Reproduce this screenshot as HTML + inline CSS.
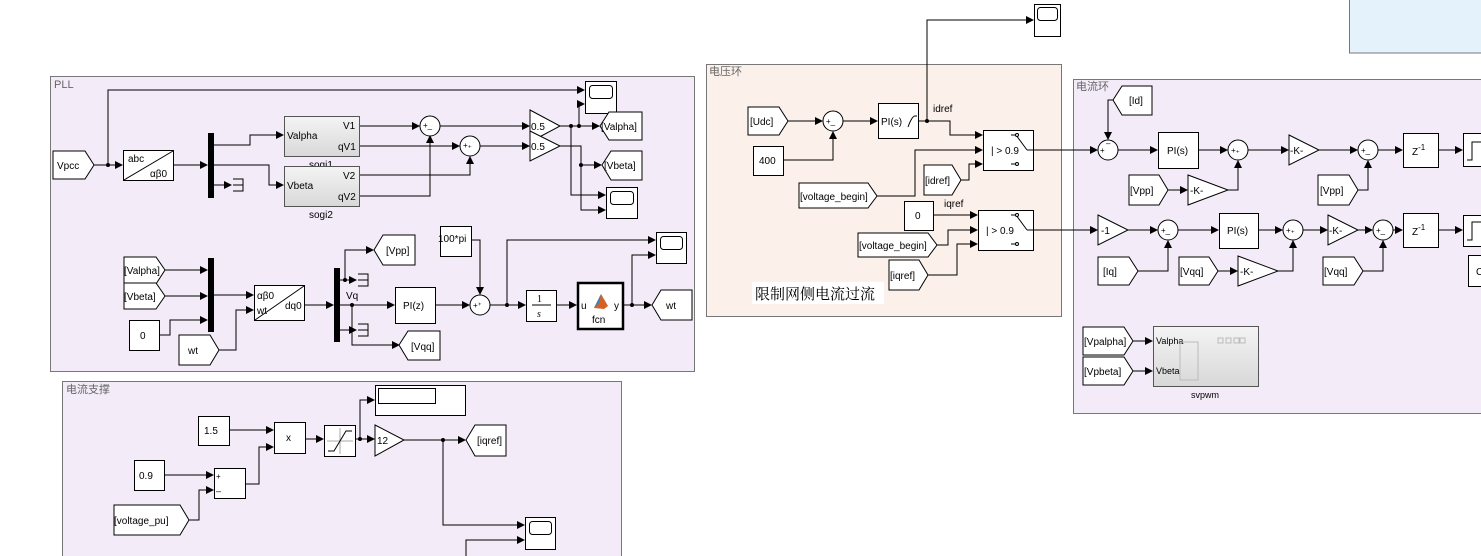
<!DOCTYPE html>
<html><head><meta charset="utf-8"><style>
html,body{margin:0;padding:0;background:#fff;}
svg{display:block;font-family:"Liberation Sans","Noto Sans CJK SC",sans-serif;}
.b{fill:#fff;stroke:#000;stroke-width:1;}
.l{fill:none;stroke:#000;stroke-width:1;}
.t{font-size:10px;fill:#000;}
.pt{font-size:11px;fill:#666;}
.d{fill:#000;}
</style></head><body>
<svg width="1481" height="556" viewBox="0 0 1481 556" xmlns="http://www.w3.org/2000/svg">
<defs>
<marker id="a" markerWidth="8" markerHeight="8" refX="7" refY="4" orient="auto" markerUnits="userSpaceOnUse"><path d="M0,0 L8,4 L0,8 z" fill="#000"/></marker>
<linearGradient id="g" x1="0" y1="0" x2="0" y2="1"><stop offset="0" stop-color="#f4f4f4"/><stop offset="1" stop-color="#d8d8d8"/></linearGradient>
</defs>

<!-- panels -->
<rect x="1349.5" y="-1" width="135" height="54" fill="#e4f2fb" stroke="#777"/>
<rect x="50.5" y="76.5" width="644" height="295" fill="#f3ebf8" stroke="#777"/>
<text x="54" y="88" class="pt">PLL</text>
<rect x="62.5" y="381.5" width="559" height="180" fill="#f3ebf8" stroke="#777"/>
<text x="66" y="393" class="pt">电流支撑</text>
<rect x="706.5" y="64.5" width="355" height="252" fill="#fbf0ea" stroke="#777"/>
<text x="709" y="75" class="pt">电压环</text>
<rect x="1073.5" y="79.5" width="420" height="334" fill="#f3ebf8" stroke="#777"/>
<text x="1076" y="90" class="pt">电流环</text>

<!-- ================= PLL ================= -->
<polygon class="b" points="53,151 85,151 94,165 85,179 53,179"/><text x="57" y="169" class="t">Vpcc</text>
<path class="l" d="M94,165 H122" marker-end="url(#a)"/>
<circle cx="108" cy="165" r="2" class="d"/>
<path class="l" d="M108,165 V90 H584" marker-end="url(#a)"/>
<rect class="b" x="123.5" y="150.5" width="50" height="30"/>
<line class="l" x1="124" y1="180" x2="173" y2="151"/>
<text x="128" y="162" class="t">abc</text><text x="150" y="177" class="t">αβ0</text>
<path class="l" d="M174,165 H207" marker-end="url(#a)"/>
<rect x="208" y="133" width="6" height="65" class="d"/>
<path class="l" d="M214,145 H250 V135 H283" marker-end="url(#a)"/>
<path class="l" d="M214,165 H269 V185 H283" marker-end="url(#a)"/>
<path class="l" d="M214,185 H231" marker-end="url(#a)"/>
<path class="l" d="M233,179 H243 V191 H233 M233,185 H243"/>
<rect x="284.5" y="116.5" width="75" height="40" fill="url(#g)" stroke="#555"/>
<text x="287" y="139" class="t">Valpha</text><text x="343" y="129" class="t">V1</text><text x="338" y="150" class="t">qV1</text>
<text x="309" y="168" class="t">sogi1</text>
<rect x="284.5" y="166.5" width="75" height="40" fill="url(#g)" stroke="#555"/>
<text x="287" y="189" class="t">Vbeta</text><text x="343" y="179" class="t">V2</text><text x="338" y="200" class="t">qV2</text>
<text x="309" y="218" class="t">sogi2</text>
<path class="l" d="M360,126 H419" marker-end="url(#a)"/>
<path class="l" d="M360,146 H459" marker-end="url(#a)"/>
<path class="l" d="M360,175 H470 V157" marker-end="url(#a)"/>
<path class="l" d="M360,196 H430 V136" marker-end="url(#a)"/>
<circle class="b" cx="430" cy="126" r="10"/><text x="423" y="128" class="t" style="font-size:8px">+_</text>
<circle class="b" cx="470" cy="146" r="10"/><text x="463" y="148" class="t" style="font-size:8px">+₊</text>
<path class="l" d="M440,126 H529" marker-end="url(#a)"/>
<path class="l" d="M480,146 H529" marker-end="url(#a)"/>
<polygon class="b" points="530,110 560,126 530,142"/><text x="531" y="130" class="t">0.5</text>
<polygon class="b" points="530,131 560,146 530,161"/><text x="531" y="150" class="t">0.5</text>
<path class="l" d="M560,126 H599" marker-end="url(#a)"/>
<circle cx="571" cy="126" r="2" class="d"/><circle cx="579" cy="126" r="2" class="d"/>
<path class="l" d="M579,126 V104 H584" marker-end="url(#a)"/>
<path class="l" d="M571,126 V195 H605" marker-end="url(#a)"/>
<path class="l" d="M560,146 H581 V210 H605" marker-end="url(#a)"/>
<circle cx="581" cy="165" r="2" class="d"/>
<path class="l" d="M581,165 H601" marker-end="url(#a)"/>
<rect class="b" x="585.5" y="81.5" width="31" height="32"/><rect x="589.5" y="85.5" width="23" height="13" rx="3" fill="#fff" stroke="#000"/>
<polygon class="b" points="600,126 609,112 642,112 642,140 609,140"/><text x="601" y="130" class="t">[Valpha]</text>
<polygon class="b" points="602,165 611,151 642,151 642,180 611,180"/><text x="604" y="169" class="t">[Vbeta]</text>
<rect class="b" x="606.5" y="187.5" width="31" height="31"/><rect x="610.5" y="191.5" width="23" height="13" rx="3" fill="#fff" stroke="#000"/>

<!-- PLL bottom -->
<polygon class="b" points="124,257 156,257 165,270 156,284 124,284"/><text x="124" y="274" class="t">[Valpha]</text>
<polygon class="b" points="124,283 156,283 165,296 156,309 124,309"/><text x="124" y="300" class="t">[Vbeta]</text>
<rect class="b" x="129.5" y="320.5" width="30" height="30"/><text x="140" y="339" class="t">0</text>
<polygon class="b" points="179,335 210,335 219,350 210,365 179,365"/><text x="188" y="354" class="t">wt</text>
<path class="l" d="M165,270 H207" marker-end="url(#a)"/>
<path class="l" d="M165,296 H207" marker-end="url(#a)"/>
<path class="l" d="M159,335 H170 V320 H207" marker-end="url(#a)"/>
<rect x="208" y="258" width="6" height="74" class="d"/>
<path class="l" d="M214,295 H253" marker-end="url(#a)"/>
<path class="l" d="M219,350 H236 V310 H253" marker-end="url(#a)"/>
<rect class="b" x="254.5" y="285.5" width="50" height="35"/>
<line class="l" x1="255" y1="320" x2="304" y2="286"/>
<text x="257" y="299" class="t">αβ0</text><text x="257" y="314" class="t">wt</text><text x="285" y="309" class="t">dq0</text>
<path class="l" d="M305,305 H333" marker-end="url(#a)"/>
<rect x="334" y="268" width="6" height="74" class="d"/>
<path class="l" d="M340,280 H356" marker-end="url(#a)"/>
<circle cx="345" cy="280" r="2" class="d"/>
<path class="l" d="M345,280 V250 H373" marker-end="url(#a)"/>
<path class="l" d="M358,274 H368 V286 H358 M358,280 H368"/>
<polygon class="b" points="374,250 383,235 415,235 415,265 383,265"/><text x="386" y="254" class="t">[Vpp]</text>
<text x="346" y="299" class="t">Vq</text>
<path class="l" d="M340,305 H394" marker-end="url(#a)"/>
<circle cx="352" cy="305" r="2" class="d"/>
<path class="l" d="M352,305 V345 H399" marker-end="url(#a)"/>
<path class="l" d="M340,330 H356" marker-end="url(#a)"/>
<path class="l" d="M358,324 H368 V336 H358 M358,330 H368"/>
<polygon class="b" points="399,345 408,331 440,331 440,360 408,360"/><text x="411" y="350" class="t">[Vqq]</text>
<rect class="b" x="395.5" y="287.5" width="40" height="36"/><text x="403" y="309" class="t">PI(z)</text>
<path class="l" d="M436,305 H469" marker-end="url(#a)"/>
<rect class="b" x="440.5" y="226.5" width="31" height="30"/><text x="438" y="242" class="t">100*pi</text>
<path class="l" d="M471,240 H480 V294" marker-end="url(#a)"/>
<circle class="b" cx="480" cy="305" r="10"/><text x="473" y="308" class="t" style="font-size:8px">+⁺</text>
<path class="l" d="M490,305 H525" marker-end="url(#a)"/>
<circle cx="507" cy="305" r="2" class="d"/>
<path class="l" d="M507,305 V240 H655" marker-end="url(#a)"/>
<rect class="b" x="526.5" y="290.5" width="30" height="31"/>
<text x="537" y="302" class="t" style="font-family:'Liberation Serif',serif">1</text><line x1="532" y1="305" x2="551" y2="305" stroke="#000"/><text x="537" y="317" class="t" style="font-family:'Liberation Serif',serif;font-style:italic">s</text>
<path class="l" d="M557,305 H576" marker-end="url(#a)"/>
<rect x="578" y="283" width="45" height="46" fill="#fff" stroke="#000" stroke-width="2.5"/>
<text x="581" y="309" class="t">u</text><text x="614" y="309" class="t">y</text><text x="592" y="323" class="t">fcn</text>
<polygon points="594,308 601,294 608,306 604,309" fill="#d2622a"/><polygon points="594,308 601,294 599,303" fill="#3b7fb5"/>
<path class="l" d="M623,305 H651" marker-end="url(#a)"/>
<circle cx="632" cy="305" r="2" class="d"/>
<path class="l" d="M632,305 V255 H655" marker-end="url(#a)"/>
<rect class="b" x="656.5" y="232.5" width="30" height="31"/><rect x="660.5" y="236.5" width="22" height="13" rx="3" fill="#fff" stroke="#000"/>
<polygon class="b" points="652,305 661,290 692,290 692,320 661,320"/><text x="666" y="309" class="t">wt</text>

<!-- ================= 电流支撑 ================= -->
<rect class="b" x="198.5" y="416.5" width="31" height="29"/><text x="204" y="434" class="t">1.5</text>
<rect class="b" x="134.5" y="460.5" width="30" height="30"/><text x="139" y="479" class="t">0.9</text>
<polygon class="b" points="114,505 180,505 189,520 180,535 114,535"/><text x="114" y="524" class="t">[voltage_pu]</text>
<rect class="b" x="214.5" y="468.5" width="31" height="30"/><text x="216" y="479" class="t" style="font-size:8px">+</text><text x="216" y="494" class="t" style="font-size:9px">–</text>
<path class="l" d="M164,475 H213" marker-end="url(#a)"/>
<path class="l" d="M189,520 H199 V490 H213" marker-end="url(#a)"/>
<path class="l" d="M245,484 H259 V447 H273" marker-end="url(#a)"/>
<path class="l" d="M230,430 H273" marker-end="url(#a)"/>
<rect class="b" x="274.5" y="422.5" width="31" height="31"/><text x="286" y="441" class="t">x</text>
<path class="l" d="M305,439 H323" marker-end="url(#a)"/>
<rect class="b" x="324.5" y="425.5" width="31" height="31"/>
<line x1="327" y1="441" x2="353" y2="441" stroke="#aaa"/><line x1="340" y1="428" x2="340" y2="454" stroke="#aaa"/>
<path class="l" d="M328,451 H334 L346,431 H352"/>
<path class="l" d="M356,439 H374" marker-end="url(#a)"/>
<circle cx="360" cy="439" r="2" class="d"/>
<path class="l" d="M360,439 V400 H374" marker-end="url(#a)"/>
<rect class="b" x="375.5" y="385.5" width="90" height="30"/><rect x="378.5" y="388.5" width="57" height="15" fill="#fff" stroke="#000"/>
<polygon class="b" points="375,425 404,440 375,456"/><text x="377" y="444" class="t">12</text>
<path class="l" d="M404,440 H465" marker-end="url(#a)"/>
<circle cx="443" cy="440" r="2" class="d"/>
<polygon class="b" points="466,440 475,425 506,425 506,456 475,456"/><text x="477" y="444" class="t">[iqref]</text>
<path class="l" d="M443,440 V525 H524" marker-end="url(#a)"/>
<path class="l" d="M466,560 V540 H524" marker-end="url(#a)"/>
<rect class="b" x="525.5" y="517.5" width="30" height="32"/><rect x="529.5" y="521.5" width="22" height="13" rx="3" fill="#fff" stroke="#000"/>

<!-- ================= 电压环 ================= -->
<polygon class="b" points="748,107 779,107 788,121 779,135 748,135"/><text x="750" y="125" class="t">[Udc]</text>
<path class="l" d="M788,121 H822" marker-end="url(#a)"/>
<circle class="b" cx="833" cy="121" r="10"/><text x="826" y="124" class="t" style="font-size:8px">+_</text>
<rect class="b" x="753.5" y="146.5" width="30" height="29"/><text x="759" y="164" class="t">400</text>
<path class="l" d="M784,160 H833 V132" marker-end="url(#a)"/>
<path class="l" d="M843,121 H877" marker-end="url(#a)"/>
<rect class="b" x="878.5" y="103.5" width="40" height="35"/><text x="881" y="125" class="t">PI(s)</text><path class="l" d="M908,127 Q912,116 915,116 H917"/>
<path class="l" d="M918,121 H950 V135 H982" marker-end="url(#a)"/>
<circle cx="927" cy="121" r="2" class="d"/>
<path class="l" d="M927,121 V20 H1033" marker-end="url(#a)"/>
<rect class="b" x="1034.5" y="4.5" width="26" height="32"/><rect x="1037.5" y="7.5" width="20" height="13" rx="3" fill="#fff" stroke="#000"/>
<text x="933" y="112" class="t">idref</text>
<rect class="b" x="983.5" y="130.5" width="50" height="40"/>
<text x="991" y="154" class="t">| &gt; 0.9</text>
<path class="l" d="M1011,135 H1016 M1016,135 L1027,150 M1027,150 H1034 M1011,164 H1016"/>
<circle cx="1017" cy="135" r="1.5" fill="#fff" stroke="#000"/><circle cx="1017" cy="164" r="1.5" fill="#fff" stroke="#000"/>
<polygon class="b" points="799,183 868,183 877,196 868,208 799,208"/><text x="800" y="200" class="t">[voltage_begin]</text>
<path class="l" d="M877,196 H915 V150 H982" marker-end="url(#a)"/>
<polygon class="b" points="924,165 952,165 961,180 952,195 924,195"/><text x="925" y="184" class="t">[idref]</text>
<path class="l" d="M961,180 H969 V164 H982" marker-end="url(#a)"/>
<path class="l" d="M1034,150 H1097" marker-end="url(#a)"/>
<rect class="b" x="904.5" y="201.5" width="29" height="29"/><text x="915" y="219" class="t">0</text>
<text x="944" y="207" class="t">iqref</text>
<path class="l" d="M933,215 H977" marker-end="url(#a)"/>
<rect class="b" x="978.5" y="210.5" width="55" height="40"/>
<text x="986" y="234" class="t">| &gt; 0.9</text>
<path class="l" d="M1011,215 H1016 M1016,215 L1027,230 M1027,230 H1034 M1011,244 H1016"/>
<circle cx="1017" cy="215" r="1.5" fill="#fff" stroke="#000"/><circle cx="1017" cy="244" r="1.5" fill="#fff" stroke="#000"/>
<polygon class="b" points="858,233 928,233 937,245 928,257 858,257"/><text x="859" y="249" class="t">[voltage_begin]</text>
<path class="l" d="M937,245 H948 V230 H977" marker-end="url(#a)"/>
<polygon class="b" points="889,260 919,260 928,275 919,290 889,290"/><text x="890" y="279" class="t">[iqref]</text>
<path class="l" d="M928,275 H957 V244 H977" marker-end="url(#a)"/>
<path class="l" d="M1034,230 H1097" marker-end="url(#a)"/>
<rect x="752" y="282" width="132" height="22" fill="#fff"/>
<text x="755" y="299" style="font-family:'Liberation Serif','Noto Serif CJK SC',serif;font-size:15px;fill:#000">限制网侧电流过流</text>

<!-- ================= 电流环 ================= -->
<polygon class="b" points="1113,100 1122,86 1152,86 1152,115 1122,115"/><text x="1129" y="104" class="t">[Id]</text>
<path class="l" d="M1113,100 H1108 V139" marker-end="url(#a)"/>
<circle class="b" cx="1108" cy="150" r="10"/><text x="1100" y="153" class="t" style="font-size:8px">+</text><text x="1106" y="146" class="t" style="font-size:8px">–</text>
<path class="l" d="M1118,150 H1157" marker-end="url(#a)"/>
<rect class="b" x="1158.5" y="132.5" width="40" height="36"/><text x="1167" y="154" class="t">PI(s)</text>
<path class="l" d="M1198,150 H1227" marker-end="url(#a)"/>
<circle class="b" cx="1238" cy="150" r="10"/><text x="1231" y="153" class="t" style="font-size:8px">+₊</text>
<polygon class="b" points="1129,175 1159,175 1168,190 1159,205 1129,205"/><text x="1130" y="194" class="t">[Vpp]</text>
<path class="l" d="M1168,190 H1187" marker-end="url(#a)"/>
<polygon class="b" points="1188,175 1228,190 1188,205"/><text x="1190" y="194" class="t">-K-</text>
<path class="l" d="M1228,190 H1238 V161" marker-end="url(#a)"/>
<path class="l" d="M1248,150 H1288" marker-end="url(#a)"/>
<polygon class="b" points="1289,135 1319,150 1289,165"/><text x="1290" y="154" class="t">-K-</text>
<path class="l" d="M1319,150 H1357" marker-end="url(#a)"/>
<circle class="b" cx="1368" cy="150" r="10"/><text x="1361" y="153" class="t" style="font-size:8px">+_</text>
<polygon class="b" points="1318,175 1349,175 1358,190 1349,205 1318,205"/><text x="1320" y="194" class="t">[Vpp]</text>
<path class="l" d="M1358,190 H1368 V161" marker-end="url(#a)"/>
<path class="l" d="M1378,150 H1402" marker-end="url(#a)"/>
<rect class="b" x="1403.5" y="133.5" width="35" height="34"/><text x="1412" y="155" class="t">Z<tspan dy="-5" style="font-size:8px">-1</tspan></text>
<path class="l" d="M1438,150 H1462" marker-end="url(#a)"/>
<rect class="b" x="1463.5" y="133.5" width="30" height="33"/><path class="l" d="M1467,160 H1472 V142 H1481"/>

<polygon class="b" points="1098,215 1128,230 1098,245"/><text x="1101" y="234" class="t">-1</text>
<path class="l" d="M1128,230 H1157" marker-end="url(#a)"/>
<circle class="b" cx="1168" cy="230" r="10"/><text x="1161" y="233" class="t" style="font-size:8px">+_</text>
<polygon class="b" points="1098,257 1129,257 1138,271 1129,285 1098,285"/><text x="1103" y="275" class="t">[Iq]</text>
<path class="l" d="M1138,271 H1168 V241" marker-end="url(#a)"/>
<path class="l" d="M1178,230 H1218" marker-end="url(#a)"/>
<rect class="b" x="1219.5" y="213.5" width="39" height="35"/><text x="1227" y="234" class="t">PI(s)</text>
<path class="l" d="M1258,230 H1282" marker-end="url(#a)"/>
<circle class="b" cx="1293" cy="230" r="10"/><text x="1286" y="233" class="t" style="font-size:8px">+₊</text>
<polygon class="b" points="1179,257 1209,257 1218,271 1209,285 1179,285"/><text x="1180" y="275" class="t">[Vqq]</text>
<path class="l" d="M1218,271 H1237" marker-end="url(#a)"/>
<polygon class="b" points="1238,256 1278,271 1238,286"/><text x="1240" y="275" class="t">-K-</text>
<path class="l" d="M1278,271 H1293 V241" marker-end="url(#a)"/>
<path class="l" d="M1303,230 H1327" marker-end="url(#a)"/>
<polygon class="b" points="1328,215 1358,230 1328,245"/><text x="1329" y="234" class="t">-K-</text>
<path class="l" d="M1358,230 H1372" marker-end="url(#a)"/>
<circle class="b" cx="1383" cy="230" r="10"/><text x="1376" y="233" class="t" style="font-size:8px">+_</text>
<polygon class="b" points="1323,257 1354,257 1363,271 1354,285 1323,285"/><text x="1324" y="275" class="t">[Vqq]</text>
<path class="l" d="M1363,271 H1383 V241" marker-end="url(#a)"/>
<path class="l" d="M1393,230 H1402" marker-end="url(#a)"/>
<rect class="b" x="1403.5" y="213.5" width="35" height="34"/><text x="1412" y="235" class="t">Z<tspan dy="-5" style="font-size:8px">-1</tspan></text>
<path class="l" d="M1438,230 H1462" marker-end="url(#a)"/>
<rect class="b" x="1463.5" y="215.5" width="30" height="31"/><path class="l" d="M1467,240 H1472 V222 H1481"/>
<rect class="b" x="1468.5" y="255.5" width="30" height="31"/><text x="1476" y="275" class="t">C</text>

<polygon class="b" points="1083,327 1124,327 1133,341 1124,355 1083,355"/><text x="1084" y="345" class="t">[Vpalpha]</text>
<polygon class="b" points="1083,357 1124,357 1133,371 1124,385 1083,385"/><text x="1084" y="375" class="t">[Vpbeta]</text>
<path class="l" d="M1133,341 H1152" marker-end="url(#a)"/>
<path class="l" d="M1133,371 H1152" marker-end="url(#a)"/>
<rect x="1153.5" y="326.5" width="105" height="60" fill="url(#g)" stroke="#555"/>
<text x="1156" y="344" class="t" style="font-size:9px">Valpha</text><text x="1156" y="374" class="t" style="font-size:9px">Vbeta</text>
<rect x="1180" y="342" width="18" height="38" fill="none" stroke="#bbb"/>
<g stroke="#bbb" fill="none"><rect x="1218" y="338" width="5" height="5"/><rect x="1226" y="338" width="5" height="5"/><rect x="1234" y="338" width="5" height="5"/><rect x="1240" y="338" width="5" height="5"/></g>
<text x="1191" y="398" class="t" style="font-size:9px">svpwm</text>
</svg>
</body></html>
